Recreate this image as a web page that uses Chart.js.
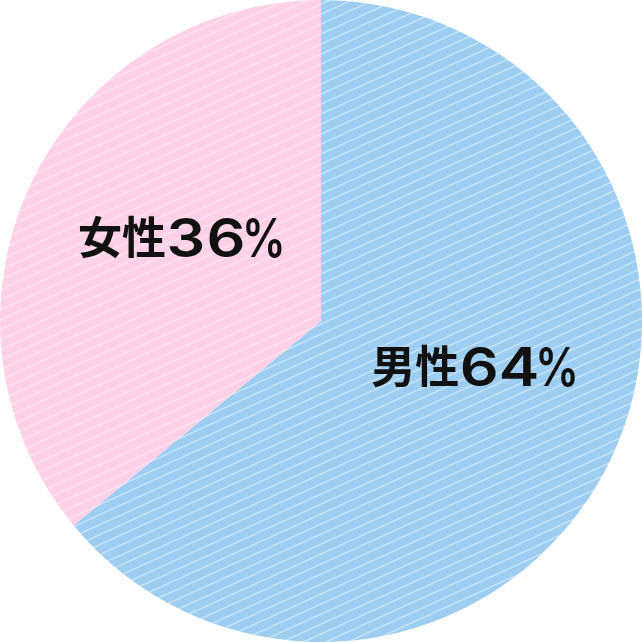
<!DOCTYPE html>
<html>
<head>
<meta charset="utf-8">
<script src="https://cdn.jsdelivr.net/npm/chart.js@4"></script>
<style>
  html, body { margin: 0; padding: 0; background: #fff; }
  #wrap { width: 642px; height: 642px; }
</style>
</head>
<body>
<div id="wrap"><canvas id="pie"></canvas></div>
<script>
const labels = ["男性", "女性"];
const values = [64, 36];
const baseColors = ["#9dcdf0", "#ffd0e6"];

// diagonal stripes, rising left to right
function stripes(color) {
  const w = 22, h = 10;
  const c = document.createElement("canvas");
  c.width = w;
  c.height = h;
  const g = c.getContext("2d");
  g.fillStyle = color;
  g.fillRect(0, 0, w, h);
  g.strokeStyle = "rgba(255,255,255,0.45)";
  g.lineWidth = 1.5;
  for (const k of [-1, 0, 1]) {
    g.beginPath();
    g.moveTo(-w, h + k * h + h);
    g.lineTo(2 * w, k * h - h);
    g.stroke();
  }
  return g.createPattern(c, "repeat");
}

// label set like a gothic face: wide digits as tall as the kanji
function drawLabel(ctx, text, cx, cy) {
  const chars = [...text];
  const adv = (ch) => (/[0-9]/.test(ch) ? 40 : ch === "%" ? 36 : 44);
  const total = chars.reduce((s, ch) => s + adv(ch), 0);
  let x = cx - total / 2;
  const base = cy + 13;
  for (const ch of chars) {
    const a = adv(ch);
    ctx.save();
    if (/[0-9%]/.test(ch)) {
      ctx.font = "600 53px Inter, 'Noto Sans'";
      ctx.translate(x + a / 2, base + 4);
      ctx.scale(ch === "%" ? 0.82 : 1.15, 1);
    } else {
      ctx.font = "bold 44px 'Noto Sans CJK JP'";
      ctx.translate(x + a / 2, base + 1);
    }
    ctx.fillText(ch, 0, 0);
    ctx.restore();
    x += a;
  }
}

const labelPlugin = {
  id: "sliceLabels",
  turn: [-0.134, 0.082],
  dist: [0.497, 0.507],
  afterDatasetsDraw(chart) {
    const ctx = chart.ctx;
    const meta = chart.getDatasetMeta(0);
    ctx.save();
    ctx.fillStyle = "#111";
    ctx.textAlign = "center";
    ctx.textBaseline = "alphabetic";
    meta.data.forEach((arc, i) => {
      const p = arc.getProps(["x", "y", "startAngle", "endAngle", "outerRadius"], true);
      const mid = (p.startAngle + p.endAngle) / 2 + this.turn[i];
      const r = p.outerRadius * this.dist[i];
      drawLabel(ctx, `${labels[i]}${values[i]}%`, p.x + Math.cos(mid) * r, p.y + Math.sin(mid) * r);
    });
    ctx.restore();
  },
};

new Chart(document.getElementById("pie"), {
  type: "pie",
  data: {
    labels,
    datasets: [
      {
        data: values,
        backgroundColor: baseColors.map(stripes),
        borderWidth: 0,
      },
    ],
  },
  options: {
    responsive: true,
    maintainAspectRatio: false,
    animation: false,
    layout: { padding: 0 },
    plugins: {
      legend: { display: false },
      tooltip: { enabled: false },
    },
  },
  plugins: [labelPlugin],
});
</script>
</body>
</html>
